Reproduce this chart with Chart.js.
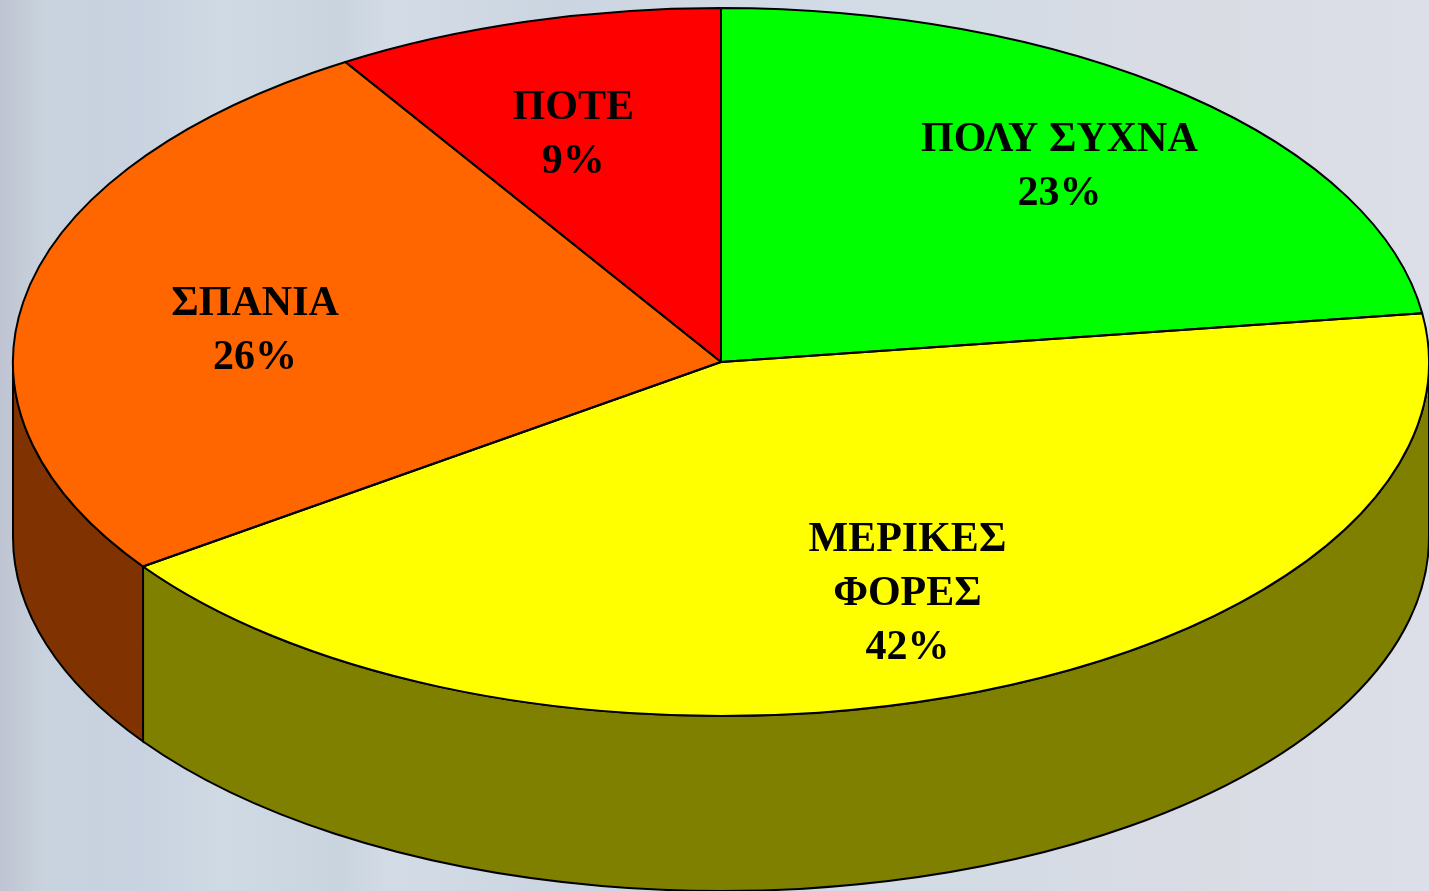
<!DOCTYPE html>
<html>
<head>
<meta charset="utf-8">
<script src="https://cdn.jsdelivr.net/npm/chart.js@4"></script>
<style>
  html, body { margin: 0; height: 100%; overflow: hidden; }
  body {
    background: linear-gradient(90deg, #bec4d1 0, #c9d3de 45px, #c8d2e0 130px, #d0dae4 225px, #cad4de 340px,
      #d3dce6 390px, #cbd5e1 560px, #d2dbe5 760px, #d4dbe5 1000px, #dadce4 1200px, #dcdfe8 1429px);
  }
  canvas { display: block; }
</style>
</head>
<body>
<canvas id="pieChart" width="1429" height="891"></canvas>
<script>
const categories = [['ΠΟΛΥ ΣΥΧΝΑ'], ['ΜΕΡΙΚΕΣ', 'ΦΟΡΕΣ'], ['ΣΠΑΝΙΑ'], ['ΠΟΤΕ']];
// the printed labels are rounded
const values = [22.8, 42.4, 25.9, 8.9];
const valueLabels = ['23%', '42%', '26%', '9%'];
const topColors = ['#00ff00', '#ffff00', '#ff6600', '#ff0000'];
const sideColors = ['#008000', '#808000', '#803300', '#800000'];

const pieRadius = 708;
const centerX = 721;
const centerY = 362;
const tilt = 0.5;       // vertical squash of the disc
const depth = 175;      // height of the side wall
const labelDist = 0.7;  // share of the radius where labels sit
// labels were nudged by hand in the original
const labelShift = [[13, -8], [4, 2], [20, 18], [-11, 11]];

// arcs are circles in the library, so the disc gets flattened here
const tiltPlugin = {
  id: 'tilt',
  beforeDatasetsDraw(chart) {
    const ctx = chart.ctx;
    const arcs = chart.getDatasetMeta(0).data;

    // side wall, only the front half of the disc shows
    arcs.forEach((arc, i) => {
      const from = Math.max(arc.startAngle, 0);
      const to = Math.min(arc.endAngle, Math.PI);
      if (from >= to) return;
      const rx = arc.outerRadius;
      const ry = rx * tilt;
      ctx.beginPath();
      ctx.ellipse(centerX, centerY, rx, ry, 0, from, to);
      ctx.ellipse(centerX, centerY + depth, rx, ry, 0, to, from, true);
      ctx.closePath();
      ctx.fillStyle = sideColors[i];
      ctx.fill();
      ctx.lineWidth = 2;
      ctx.strokeStyle = '#000';
      ctx.stroke();
    });

    const first = arcs[0];
    ctx.save();
    ctx.translate(centerX, centerY);
    ctx.scale(1, tilt);
    ctx.translate(-first.x, -first.y);
  },
  afterDatasetsDraw(chart) {
    const ctx = chart.ctx;
    ctx.restore();

    const arcs = chart.getDatasetMeta(0).data;
    // outlines are stroked after the squash so they keep an even width
    arcs.forEach((arc) => {
      const rx = arc.outerRadius;
      ctx.beginPath();
      ctx.moveTo(centerX, centerY);
      ctx.ellipse(centerX, centerY, rx, rx * tilt, 0, arc.startAngle, arc.endAngle);
      ctx.closePath();
      ctx.lineWidth = 2;
      ctx.lineJoin = 'round';
      ctx.strokeStyle = '#000';
      ctx.stroke();
    });

    ctx.fillStyle = '#000';
    ctx.font = 'bold 42px "Liberation Serif"';
    ctx.textAlign = 'center';
    ctx.textBaseline = 'middle';
    const lineGap = 54;
    arcs.forEach((arc, i) => {
      const mid = (arc.startAngle + arc.endAngle) / 2;
      const x = centerX + Math.cos(mid) * arc.outerRadius * labelDist + labelShift[i][0];
      const y = centerY + Math.sin(mid) * arc.outerRadius * tilt * labelDist + labelShift[i][1];
      const lines = categories[i].concat(valueLabels[i]);
      lines.forEach((line, n) => {
        ctx.fillText(line, x, y + (n - (lines.length - 1) / 2) * lineGap);
      });
    });
  }
};

new Chart(document.getElementById('pieChart'), {
  type: 'pie',
  data: {
    labels: categories.map((c) => c.join(' ')),
    datasets: [{
      data: values,
      backgroundColor: topColors,
      borderWidth: 0,
      radius: pieRadius,
      clip: false
    }]
  },
  options: {
    responsive: false,
    animation: false,
    plugins: {
      legend: { display: false },
      tooltip: { enabled: false }
    }
  },
  plugins: [tiltPlugin]
});
</script>
</body>
</html>
